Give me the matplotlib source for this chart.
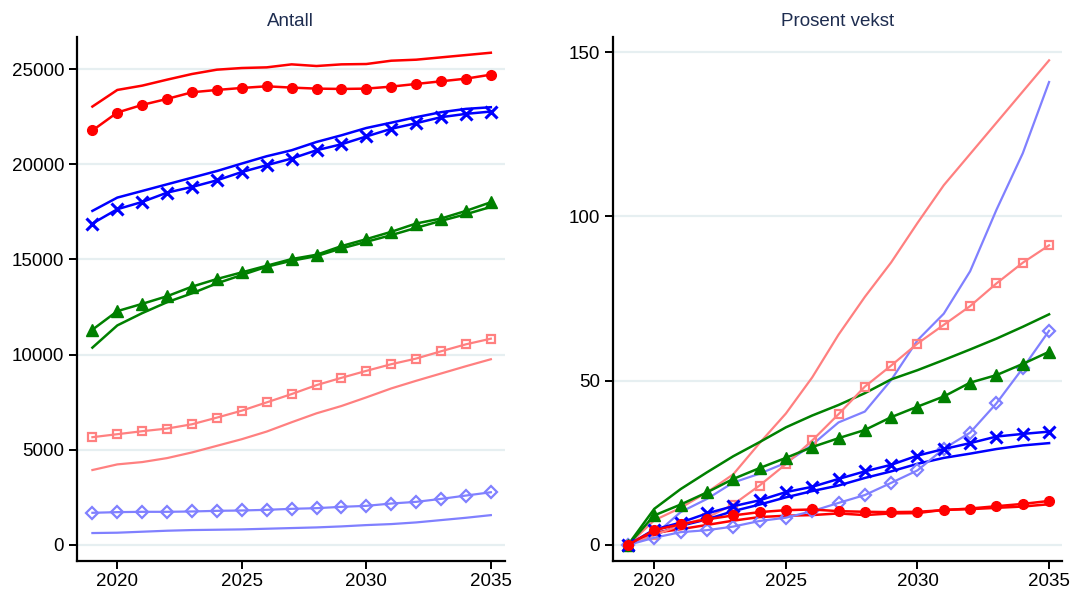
import matplotlib
matplotlib.use("Agg")
import matplotlib.pyplot as plt

plt.rcParams['font.family'] = ['Liberation Sans', 'DejaVu Sans']

years = list(range(2019, 2036))

# ---- Left panel: Antall ----
red_line = [23028, 23900, 24127, 24441, 24738, 24965, 25052, 25087, 25244, 25157,
            25244, 25262, 25436, 25489, 25611, 25733, 25855]
red_dots = [21771, 22714, 23115, 23429, 23778, 23900, 24005, 24092, 24023, 23970,
            23953, 23970, 24075, 24215, 24354, 24494, 24703]
blue_line = [17548, 18246, 18595, 18944, 19293, 19642, 20035, 20419, 20733, 21169,
             21518, 21902, 22181, 22470, 22731, 22906, 22993]
blue_x = [16885, 17635, 18019, 18508, 18805, 19154, 19590, 19948, 20297, 20733,
          21047, 21457, 21859, 22155, 22470, 22644, 22766]
green_line = [10366, 11533, 12178, 12753, 13220, 13743, 14180, 14616, 14930, 15175,
              15576, 15925, 16274, 16658, 17024, 17373, 17757]
green_tri = [11307, 12282, 12666, 13066, 13569, 13970, 14319, 14668, 15017, 15244,
             15698, 16064, 16449, 16885, 17147, 17548, 18002]
pink_line = [3937, 4233, 4355, 4564, 4861, 5209, 5557, 5958, 6446, 6916,
             7300, 7753, 8223, 8624, 9007, 9390, 9756]
pink_sq = [5662, 5819, 5976, 6115, 6341, 6690, 7056, 7491, 7927, 8397,
           8780, 9146, 9495, 9791, 10174, 10540, 10836]
lav_line = [627, 645, 697, 749, 784, 801, 819, 854, 889, 923,
            976, 1045, 1098, 1185, 1307, 1429, 1568]
lav_dia = [1690, 1725, 1742, 1742, 1760, 1794, 1812, 1847, 1899, 1934,
           2003, 2056, 2178, 2265, 2422, 2596, 2770]

# ---- Right panel: Prosent vekst ----
red_line_p = [0, 3.7, 4.8, 6.1, 7.4, 8.5, 8.9, 9.1, 9.6, 9.1, 9.6, 9.7, 10.7, 10.9, 11.3, 11.7, 12.4]
red_dots_p = [0, 4.5, 6.3, 7.8, 9.0, 10.0, 10.6, 10.8, 10.3, 10.1, 10.0, 10.1, 10.6, 11.1, 11.8, 12.5, 13.4]
blue_line_p = [0, 3.2, 5.8, 7.8, 10.3, 12.3, 14.5, 16.4, 18.1, 20.4, 22.4, 24.7, 26.5, 27.8, 29.2, 30.3, 31.0]
blue_x_p = [0, 4.7, 6.8, 9.6, 11.8, 13.6, 16.1, 17.7, 20.1, 22.4, 24.4, 27.2, 29.2, 31.0, 33.0, 33.8, 34.5]
green_line_p = [0, 11.0, 17.0, 22.1, 27.0, 31.3, 35.8, 39.4, 42.6, 46.2, 50.4, 53.2, 56.3, 59.5, 62.8, 66.4, 70.2]
green_tri_p = [0, 9.0, 12.3, 16.0, 20.1, 23.4, 26.5, 29.8, 32.5, 35.0, 38.9, 42.1, 45.2, 49.4, 51.7, 55.1, 58.8]
pink_line_p = [0, 7.5, 11.3, 16.0, 21.5, 31.0, 40.0, 51.0, 64.0, 75.5, 86.0, 98.0, 109.5, 119.0, 128.5, 138.0, 147.5]
pink_sq_p = [0, 3.0, 6.0, 8.3, 12.3, 18.1, 24.6, 31.8, 39.8, 48.2, 54.6, 61.3, 67.0, 72.7, 79.6, 85.9, 91.2]
lav_line_p = [0, 3.0, 10.0, 14.0, 19.0, 21.7, 25.0, 30.5, 37.3, 40.6, 50.2, 62.3, 70.4, 83.3, 102.0, 119.2, 140.9]
lav_dia_p = [0, 2.2, 3.9, 4.5, 5.6, 7.3, 8.3, 10.3, 12.8, 15.2, 18.9, 22.7, 29.3, 34.2, 43.1, 53.8, 65.2]

RED = '#ff0000'
BLUE = '#0000ff'
GREEN = '#008000'
PINK = '#ff8080'
LAV = '#8080ff'
GRID = '#e6eff1'
TITLE = '#1e2d50'

fig = plt.figure(figsize=(10.70, 5.93), dpi=100)
ax1 = fig.add_axes([0.0717, 0.054, 0.4003, 0.8836])
ax2 = fig.add_axes([0.5726, 0.054, 0.4199, 0.8836])


def draw(ax, d):
    rl, rd, bl, bx, gl, gt, pl, ps, ll, ld = d
    ax.plot(years, pl, color=PINK, lw=1.6, zorder=3)
    ax.plot(years, ll, color=LAV, lw=1.6, zorder=3)
    ax.plot(years, gl, color=GREEN, lw=1.8, zorder=3)
    ax.plot(years, bl, color=BLUE, lw=1.8, zorder=3)
    ax.plot(years, rl, color=RED, lw=1.8, zorder=3)
    ax.plot(years, ps, color=PINK, lw=1.6, marker='s', ms=5.5, mfc='none',
            mec=PINK, mew=1.6, zorder=4)
    ax.plot(years, ld, color=LAV, lw=1.6, marker='D', ms=6, mfc='none',
            mec=LAV, mew=1.6, zorder=4)
    ax.plot(years, gt, color=GREEN, lw=1.8, marker='^', ms=8, mfc=GREEN,
            mec=GREEN, zorder=4)
    ax.plot(years, bx, color=BLUE, lw=1.8, marker='x', ms=9, mew=2.2, zorder=4)
    ax.plot(years, rd, color=RED, lw=1.8, marker='o', ms=7, mfc=RED,
            mec=RED, zorder=5)


draw(ax1, [red_line, red_dots, blue_line, blue_x, green_line, green_tri,
           pink_line, pink_sq, lav_line, lav_dia])
draw(ax2, [red_line_p, red_dots_p, blue_line_p, blue_x_p, green_line_p, green_tri_p,
           pink_line_p, pink_sq_p, lav_line_p, lav_dia_p])

ax1.set_xlim(2018.37, 2035.57)
ax1.set_ylim(-840, 26681)
ax1.set_yticks([0, 5000, 10000, 15000, 20000, 25000])
ax1.set_yticklabels(['0', '5000', '10000', '15000', '20000', '25000'])

ax2.set_xlim(2018.42, 2035.49)
ax2.set_ylim(-4.87, 154.6)
ax2.set_yticks([0, 50, 100, 150])
ax2.set_yticklabels(['0', '50', '100', '150'])

for ax, title in [(ax1, 'Antall'), (ax2, 'Prosent vekst')]:
    ax.set_xticks([2020, 2025, 2030, 2035])
    ax.set_xticklabels(['2020', '2025', '2030', '2035'])
    for s in ['top', 'right']:
        ax.spines[s].set_visible(False)
    for s in ['left', 'bottom']:
        ax.spines[s].set_linewidth(1.6)
        ax.spines[s].set_color('black')
    ax.tick_params(axis='both', direction='out', length=6, width=1.4,
                   labelsize=13.5, colors='black', pad=3)
    ax.yaxis.grid(True, color=GRID, lw=1.6, zorder=0)
    ax.set_axisbelow(True)
    ax.set_title(title, fontsize=13.5, color=TITLE, pad=8)

fig.savefig('out.png', dpi=100)
